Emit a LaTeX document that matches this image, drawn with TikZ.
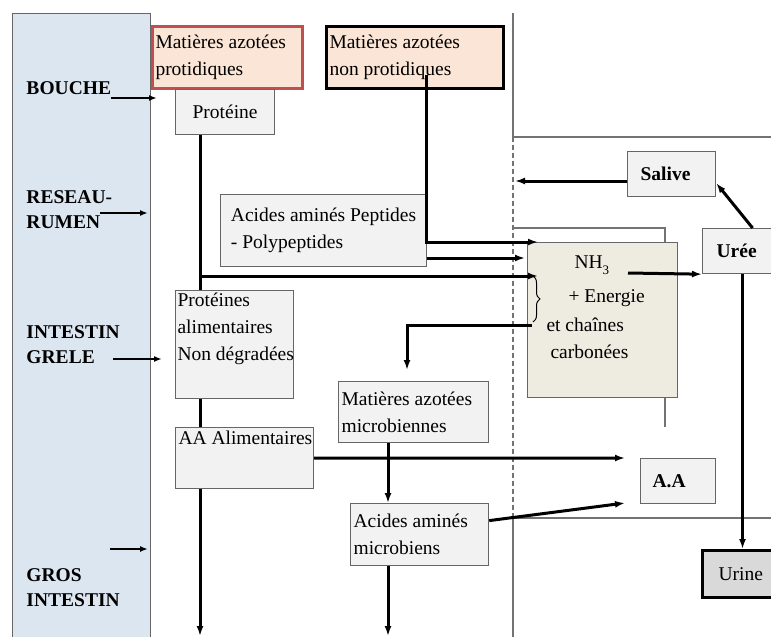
\documentclass[tikz,border=0pt]{standalone}
\usepackage{fontspec}
\setmainfont{Liberation Serif}
\usepackage{tikz}
\usetikzlibrary{arrows.meta,positioning,calc,decorations.pathreplacing}
\definecolor{panelblue}{RGB}{220,230,241}
\definecolor{peach}{RGB}{251,229,214}
\definecolor{redline}{RGB}{192,80,77}
\definecolor{boxgray}{RGB}{242,242,242}
\definecolor{tanbox}{RGB}{238,236,225}
\definecolor{urinegray}{RGB}{217,217,217}
\colorlet{edgegray}{black!60}
\colorlet{wallgray}{black!55}

\begin{document}
\begin{tikzpicture}[x=1pt, y=-1pt, >={Latex[length=10pt,width=7pt]}, line width=3pt,
    every node/.style={font=\fontsize{19.5}{27}\selectfont, inner sep=3pt}]
\tikzstyle{box}=[draw=edgegray, line width=1.2pt, fill=boxgray, anchor=north west, align=flush left]
\tikzstyle{lbl}=[anchor=west, inner sep=0pt, align=left, font=\fontsize{19.5}{25}\selectfont\bfseries]
\tikzstyle{wall}=[draw=wallgray, line width=1.2pt]
\tikzstyle{lblarrow}=[->, line width=2pt, >={Latex[length=8pt,width=6pt]}]
\useasboundingbox (0,0) rectangle (771,637);

% partitions
\draw[wall] (513,13) -- (513,137) -- (771,137);
\draw[wall, dashed, dash pattern=on 5pt off 3pt] (513,137) -- (513,518);
\draw[wall] (513,518) -- (513,640);
\draw[wall] (513,518) -- (771,518);
\draw[wall] (513,228) -- (665,228) -- (665,427);

\node[draw=edgegray, line width=1.2pt, fill=panelblue, anchor=north west,
      minimum width=138pt, minimum height=640pt] (panel) at (12,13) {};

\node[lbl] (bouche) at (25,88)  {BOUCHE};
\node[lbl] (reseau) at (25,210) {RESEAU-\\RUMEN};
\node[lbl] (grele)  at (25,345) {INTESTIN\\GRELE};
\node[lbl] (gros)   at (25,588) {GROS\\INTESTIN};

\coordinate (bouche-out) at (111,98);  \coordinate (bouche-in) at (157,98);
\coordinate (reseau-out) at (100,213); \coordinate (reseau-in) at (148,213);
\coordinate (grele-out)  at (113,359); \coordinate (grele-in)  at (162,359);
\coordinate (gros-out)   at (110,549); \coordinate (gros-in)   at (148,549);

\draw[lblarrow] (bouche-out) -- (bouche-in);
\draw[lblarrow] (reseau-out) -- (reseau-in);
\draw[lblarrow] (grele-out) -- (grele-in);
\draw[lblarrow] (gros-out) -- (gros-in);

\node[box, fill=peach, draw=redline, line width=3pt, text width=144pt, minimum height=62pt]
    (mprot) at (151,25) {Matières azotées\\protidiques};
\node[box, fill=peach, draw=black, line width=3pt, text width=171pt, minimum height=62pt]
    (mnonprot) at (325,25) {Matières azotées\\non protidiques};
\node[box, align=center, text width=93pt, minimum height=45pt] (proteine) at (175,89) {Protéine};
\node[box, minimum width=206pt, minimum height=72pt] (aapep) at (220,194)
    {Acides aminés Peptides\\- Polypeptides};
\node[box, minimum width=118pt, minimum height=108pt,
      label={[anchor=north west, align=left, inner sep=1pt]north west:Protéines\\alimentaires\\Non dégradées}]
    (protalim) at (175,290) {};
\node[box, minimum width=138pt, minimum height=61pt,
      label={[anchor=north west, inner sep=2pt]north west:AA Alimentaires}]
    (aaalim) at (175,427) {};
\node[box, text width=144pt, minimum height=61pt] (mmicro) at (338,381)
    {Matières azotées\\microbiennes};
\node[box, text width=132pt, minimum height=62pt] (aamicro) at (350,503)
    {Acides aminés\\microbiens};
\node[box, inner xsep=12pt, text width=51pt, minimum height=45pt, font=\fontsize{19.5}{27}\selectfont\bfseries]
    (aa) at (640,458) {A.A};
\node[box, inner xsep=13pt, text width=62pt, minimum height=45pt, font=\fontsize{19.5}{27}\selectfont\bfseries]
    (salive) at (627,151) {Salive};
\node[box, inner xsep=14pt, text width=52pt, minimum height=45pt, font=\fontsize{19.5}{27}\selectfont\bfseries]
    (uree) at (702,228) {Urée};
\node[box, fill=urinegray, draw=black, line width=3pt, inner xsep=16pt, text width=48pt, minimum height=47pt]
    (urine) at (701,549) {Urine};

\node[box, fill=tanbox, minimum width=150pt, minimum height=155pt] (nh3) at (527,242) {};
\node[anchor=west, inner sep=0pt] (nh) at (573,265) {NH\raisebox{-6pt}{\fontsize{13}{13}\selectfont 3}};
\node[anchor=west, inner sep=0pt] (energie) at (567,298) {+ Energie};
\node[anchor=west, inner sep=0pt] (chaines) at (545,325) {et chaînes};
\node[anchor=west, inner sep=0pt] (carbone) at (549,352) {carbonées};

\coordinate (np-out) at (426,75);
\coordinate (split)  at (200,276);
\coordinate (nh3-in1) at (538,242);
\coordinate (nh3-in2) at (525,258);
\coordinate (nh3-in3) at (538,276);
\coordinate (nh-out) at (628,273);
\coordinate (br-end) at (532,325);
\coordinate (mm-in)  at (407,370);
\coordinate (sal-in) at (515,181);
\coordinate (aa-in1) at (625,458);
\coordinate (aa-in2) at (625,503);
\coordinate (out1) at (200,636);
\coordinate (out2) at (388,636);

\draw ([xshift=25pt]proteine.south west) -- ([xshift=25pt]protalim.north west);
\draw[->] (split) -- (nh3-in3);
\draw[->] (np-out) |- (nh3-in1);
\draw[->] (aapep.east |- nh3-in2) -- (nh3-in2);
\draw[line width=1pt, decorate, decoration={brace, amplitude=7pt}] (533,276) -- (533,322);
\draw[->] (br-end) -| (mm-in);
\draw[->] (nh-out) -- (uree.south west);
\draw[->] ([xshift=10pt]uree.north) -- ([yshift=-9pt]salive.east);
\draw[->] (salive.west |- sal-in) -- (sal-in);
\draw[->] (urine.north |- uree.south) -- (urine.north);
\draw ([xshift=25pt]protalim.south west) -- ([xshift=25pt]aaalim.north west);
\draw[->] (aaalim.east) -- (aa-in1);
\draw[->] ([xshift=25pt]aaalim.south west) -- (out1);
\draw[->] ([xshift=50pt]mmicro.south west) -- ([xshift=38pt]aamicro.north west);
\draw[->] ([yshift=14pt]aamicro.east) -- (aa-in2);
\draw[->] ([xshift=38pt]aamicro.south west) -- (out2);
\end{tikzpicture}
\end{document}
